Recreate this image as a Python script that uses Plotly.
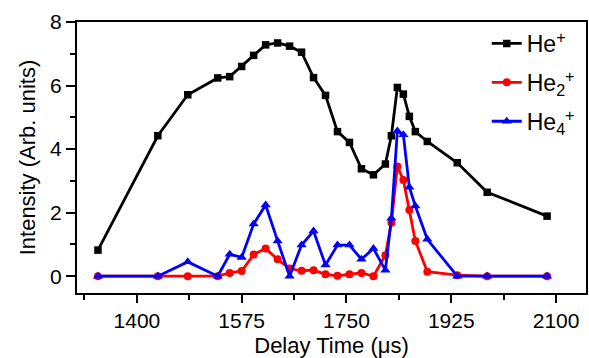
import plotly.graph_objects as go

delay_time = [1335, 1435, 1485, 1535, 1555, 1575, 1595, 1615, 1635, 1655, 1675, 1695, 1715,
              1735, 1755, 1775, 1795, 1815, 1825, 1835, 1845, 1855, 1865, 1885, 1935, 1985, 2085]
he1 = [0.82, 4.42, 5.71, 6.24, 6.28, 6.60, 6.95, 7.28, 7.34, 7.24, 7.05, 6.25, 5.69,
       4.55, 4.21, 3.38, 3.19, 3.53, 4.42, 5.94, 5.73, 5.03, 4.55, 4.24, 3.57, 2.64, 1.89]
he2 = [0.0, 0.0, 0.0, 0.0, 0.10, 0.16, 0.68, 0.87, 0.53, 0.24, 0.17, 0.19, 0.06,
       0.01, 0.06, 0.10, 0.0, 0.66, 1.68, 3.45, 3.03, 2.08, 1.11, 0.14, 0.03, 0.0, 0.0]
he4 = [0.0, 0.0, 0.45, 0.0, 0.69, 0.59, 1.64, 2.24, 1.11, 0.0, 0.98, 1.42, 0.35,
       0.98, 0.98, 0.53, 0.87, 0.19, 1.82, 4.57, 4.45, 2.80, 2.21, 1.16, 0.0, 0.0, 0.0]

x_ticks = [1400, 1575, 1750, 1925, 2100]
y_ticks = [0, 2, 4, 6, 8]

FONT = "Liberation Sans, Arial, sans-serif"

fig = go.Figure()
fig.add_trace(go.Scatter(x=delay_time, y=he1, mode="lines+markers", name="He<sup>+</sup>",
                         legendgroup="a",
                         line=dict(color="#000000", width=2.8),
                         marker=dict(symbol="square", size=7.5, color="#000000")))
fig.add_trace(go.Scatter(x=delay_time, y=he2, mode="lines+markers", name="He<sub>2</sub><sup>+</sup>",
                         legendgroup="b",
                         line=dict(color="#ff0000", width=2.8),
                         marker=dict(symbol="circle", size=8, color="#ff0000")))
fig.add_trace(go.Scatter(x=delay_time, y=he4, mode="lines+markers", name="He<sub>4</sub><sup>+</sup>",
                         legendgroup="c",
                         line=dict(color="#0000ff", width=2.8),
                         marker=dict(symbol="triangle-up", size=9, color="#0000ff")))

fig.update_layout(
    width=589, height=358,
    margin=dict(l=77, r=1, t=22, b=65),
    paper_bgcolor="white", plot_bgcolor="white",
    font=dict(family=FONT, size=21, color="black"),
    showlegend=True,
    legend=dict(x=0.805, y=1.0, xanchor="left", yanchor="top",
                bgcolor="rgba(0,0,0,0)", font=dict(size=23), tracegroupgap=6),
)
fig.update_xaxes(
    range=[1300, 2150], tickvals=x_ticks, ticktext=[str(v) for v in x_ticks],
    ticks="outside", ticklen=8, tickwidth=1.5, tickcolor="black",
    minor=dict(ticks="outside", ticklen=5, tickwidth=1.5, tickcolor="black", dtick=87.5, tick0=1312.5),
    showline=True, linecolor="black", linewidth=2, mirror=True,
    showgrid=False, zeroline=False,
    title=dict(text="Delay Time (μs)", font=dict(size=22), standoff=6),
)
fig.update_yaxes(
    range=[-0.53, 8], tickvals=y_ticks, ticktext=[str(v) for v in y_ticks],
    ticks="outside", ticklen=9, tickwidth=1.5, tickcolor="black",
    minor=dict(ticks="outside", ticklen=5, tickwidth=1.5, tickcolor="black", dtick=1, tick0=1),
    showline=True, linecolor="black", linewidth=2, mirror=True,
    showgrid=False, zeroline=False,
    title=dict(text="Intensity (Arb. units)", font=dict(size=22), standoff=8),
)

fig.write_html("out.html")
